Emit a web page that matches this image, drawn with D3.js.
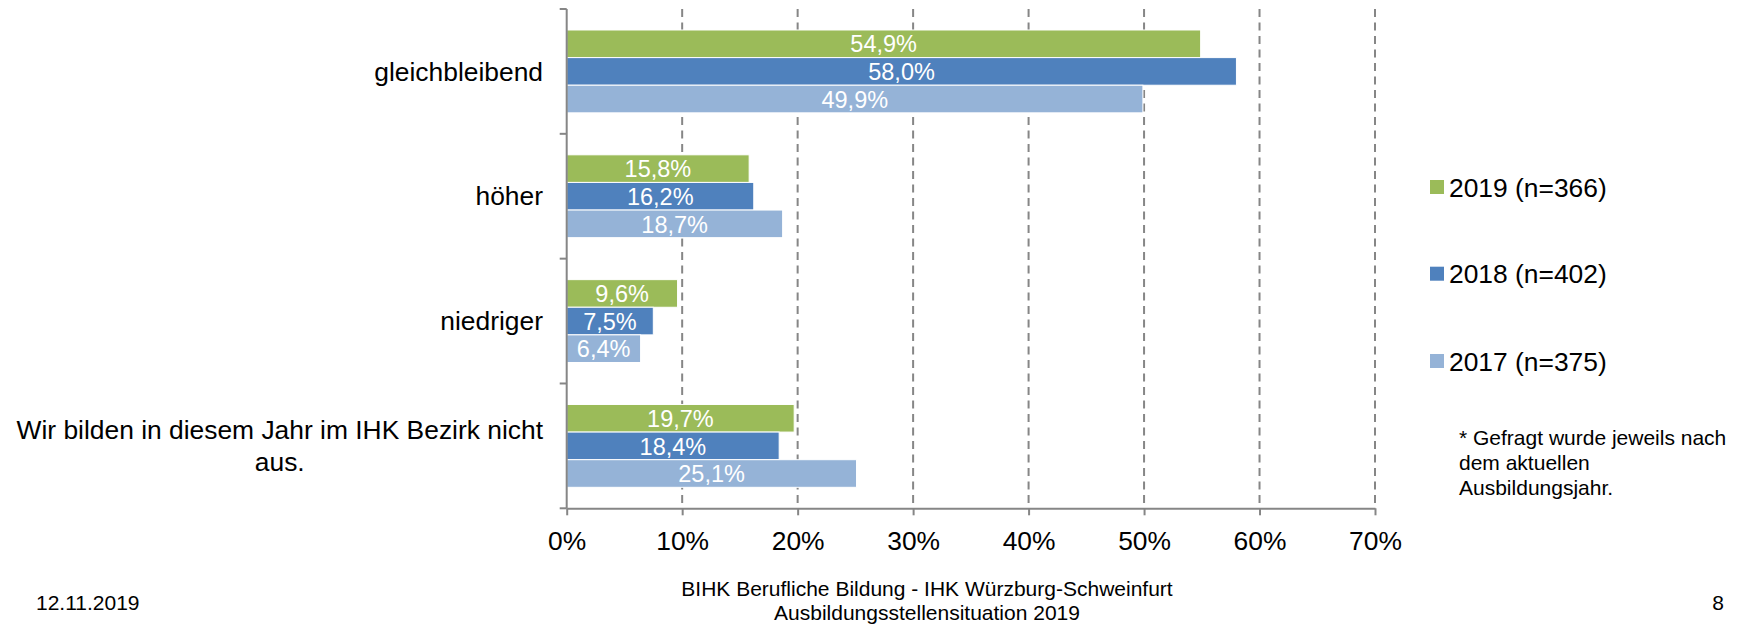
<!DOCTYPE html>
<html>
<head>
<meta charset="utf-8">
<script src="https://cdn.jsdelivr.net/npm/d3@7"></script>
<style>
    body { margin: 0; background: #fff; }
    svg { display: block; font-family: "Liberation Sans", Arial, sans-serif; }
</style>
</head>
<body>
<svg id="chart" width="1750" height="626"></svg>
<script>

var categories = ['gleichbleibend', 'höher', 'niedriger', 'Wir bilden in diesem Jahr im IHK Bezirk nicht aus.'];
var categoryLines = [['gleichbleibend'], ['höher'], ['niedriger'], ['Wir bilden in diesem Jahr im IHK Bezirk nicht', 'aus.']];
var seriesNames = ['2019 (n=366)', '2018 (n=402)', '2017 (n=375)'];
var values2019 = [54.9, 15.8, 9.6, 19.7];
var values2018 = [58.0, 16.2, 7.5, 18.4];
var values2017 = [49.9, 18.7, 6.4, 25.1];
var xTicks = [0, 10, 20, 30, 40, 50, 60, 70];
var footnoteLines = ['* Gefragt wurde jeweils nach', 'dem aktuellen', 'Ausbildungsjahr.'];

var colors = ['#9bbb59', '#4f81bd', '#95b3d7'];
var axisColor = '#868686';

var series = [values2019, values2018, values2017];

var svg = d3.select('#chart');

// plot area edges (avoid "top", it is window.top)
var plotLeft = 566.7, plotRight = 1375, plotTop = 9, plotBottom = 508.3;

var x = d3.scaleLinear().domain([0, 70]).range([plotLeft, plotRight]);
var y0 = d3.scaleBand().domain(categories).range([plotTop, plotBottom]).padding(0);
var y1 = d3.scaleBand().domain(d3.range(series.length))
    .range([0, y0.bandwidth()]).paddingInner(0).paddingOuter(0.76);

var de = d3.formatLocale({decimal: ',', thousands: '.', grouping: [3], currency: ['', '€']});
var fmt = de.format('.1f');

// dashed gridlines
svg.append('g')
    .selectAll('line')
    .data(xTicks.slice(1))
    .join('line')
    .attr('x1', function (d) { return x(d); })
    .attr('x2', function (d) { return x(d); })
    .attr('y1', plotTop)
    .attr('y2', plotBottom)
    .attr('stroke', axisColor)
    .attr('stroke-width', 2)
    .attr('stroke-dasharray', '8,5.5');

// bars
var groups = svg.append('g')
    .selectAll('g')
    .data(categories)
    .join('g')
    .attr('transform', function (d) { return 'translate(0,' + y0(d) + ')'; });

groups.selectAll('rect')
    .data(function (d, i) { return series.map(function (s, j) { return {s: j, v: s[i]}; }); })
    .join('rect')
    .attr('x', x(0))
    .attr('y', function (d) { return y1(d.s); })
    .attr('width', function (d) { return x(d.v) - x(0); })
    .attr('height', y1.bandwidth())
    .attr('fill', function (d) { return colors[d.s]; })
    .attr('stroke', '#fff')
    .attr('stroke-width', 1);

groups.selectAll('text')
    .data(function (d, i) { return series.map(function (s, j) { return {s: j, v: s[i]}; }); })
    .join('text')
    .attr('x', function (d) { return (x(0) + x(d.v)) / 2; })
    .attr('y', function (d) { return y1(d.s) + y1.bandwidth() / 2; })
    .attr('dy', '0.37em')
    .attr('text-anchor', 'middle')
    .attr('fill', '#fff')
    .style('font-size', '23.5px')
    .text(function (d) { return fmt(d.v) + '%'; });

// x axis
var xAxis = svg.append('g')
    .attr('transform', 'translate(0,' + plotBottom + ')')
    .call(d3.axisBottom(x).tickValues(xTicks).tickSize(7).tickSizeOuter(0).tickPadding(15.5)
        .tickFormat(function (d) { return d + '%'; }));

xAxis.select('.domain').attr('stroke', axisColor).attr('stroke-width', 2);
xAxis.selectAll('.tick line').attr('stroke', axisColor).attr('stroke-width', 2);
xAxis.selectAll('.tick text')
    .attr('fill', '#000')
    .style('font-size', '26.4px')
    .style('font-family', '"Liberation Sans", Arial, sans-serif');

// y axis: line plus ticks at category boundaries
var bounds = categories.map(function (c) { return y0(c); }).concat([plotBottom]);

svg.append('line')
    .attr('x1', plotLeft).attr('x2', plotLeft)
    .attr('y1', plotTop).attr('y2', plotBottom)
    .attr('stroke', axisColor).attr('stroke-width', 2);

svg.append('g')
    .selectAll('line')
    .data(bounds)
    .join('line')
    .attr('x1', plotLeft - 7).attr('x2', plotLeft)
    .attr('y1', function (d) { return d; })
    .attr('y2', function (d) { return d; })
    .attr('stroke', axisColor).attr('stroke-width', 2);

// category labels
var labelRight = 543;
var catG = svg.append('g').style('font-size', '26.4px').attr('fill', '#000');

categoryLines.forEach(function (lines, i) {
    var cy = y0(categories[i]) + y0.bandwidth() / 2;
    var lh = 31.6;
    var first = catG.append('text')
        .attr('x', labelRight)
        .attr('y', cy - (lines.length - 1) * lh / 2)
        .attr('dy', '0.35em')
        .attr('text-anchor', 'end')
        .text(lines[0]);
    var w = first.node().getComputedTextLength();
    for (var k = 1; k < lines.length; k++) {
        catG.append('text')
            .attr('x', labelRight - w / 2)
            .attr('y', cy - (lines.length - 1) * lh / 2 + k * lh)
            .attr('dy', '0.35em')
            .attr('text-anchor', 'middle')
            .text(lines[k]);
    }
});

// legend
var legendY = [187, 273.7, 361];
var legend = svg.append('g')
    .selectAll('g')
    .data(seriesNames)
    .join('g')
    .attr('transform', function (d, i) { return 'translate(1430,' + legendY[i] + ')'; });

legend.append('rect')
    .attr('x', 0).attr('y', -7)
    .attr('width', 14).attr('height', 14)
    .attr('fill', function (d, i) { return colors[i]; });

legend.append('text')
    .attr('x', 19)
    .attr('dy', '0.36em')
    .style('font-size', '26.4px')
    .attr('fill', '#000')
    .text(function (d) { return d; });

// footnote
svg.append('g')
    .selectAll('text')
    .data(footnoteLines)
    .join('text')
    .attr('x', 1459)
    .attr('y', function (d, i) { return 445 + i * 25; })
    .style('font-size', '21px')
    .attr('fill', '#000')
    .text(function (d) { return d; });

// footer
svg.append('text')
    .attr('x', 36).attr('y', 610)
    .style('font-size', '21px')
    .text('12.11.2019');

svg.append('text')
    .attr('x', 927).attr('y', 596)
    .attr('text-anchor', 'middle')
    .style('font-size', '21px')
    .text('BIHK Berufliche Bildung - IHK Würzburg-Schweinfurt');

svg.append('text')
    .attr('x', 927).attr('y', 620)
    .attr('text-anchor', 'middle')
    .style('font-size', '21px')
    .text('Ausbildungsstellensituation 2019');

svg.append('text')
    .attr('x', 1718).attr('y', 610)
    .attr('text-anchor', 'middle')
    .style('font-size', '21px')
    .text('8');

</script>
</body>
</html>
